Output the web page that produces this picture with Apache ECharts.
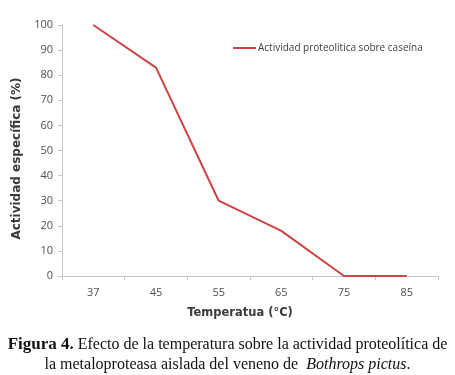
<!DOCTYPE html>
<html>
<head>
<meta charset="utf-8">
<script src="https://cdn.jsdelivr.net/npm/echarts@6/dist/echarts.min.js"></script>
<style>
  html, body { margin: 0; padding: 0; background: #fff; }
  #chart-container { width: 455px; height: 375px; }
</style>
</head>
<body>
<div id="chart-container"></div>
<script>
var dom = document.getElementById('chart-container');
var myChart = echarts.init(dom, null, { renderer: 'canvas' });

// temperatura (°C)
const temperaturas = ['37', '45', '55', '65', '75', '85'];
// actividad específica (%)
const actividad = [100, 83, 30, 18, 0, 0];
const serieNombre = 'Actividad proteolítica sobre caseína';

var option = {
  backgroundColor: '#ffffff',
  animation: false,
  title: {
    text: '{b|Figura 4.} Efecto de la temperatura sobre la actividad proteolítica de\nla metaloproteasa aislada del veneno de  {i|Bothrops pictus}.',
    left: 'center',
    top: 330,
    textStyle: {
      fontFamily: 'Liberation Serif',
      fontSize: 16,
      fontWeight: 'normal',
      color: '#111',
      lineHeight: 20,
      rich: {
        b: { fontFamily: 'Liberation Serif', fontSize: 17, fontWeight: 'bold', color: '#111' },
        i: { fontFamily: 'Liberation Serif', fontSize: 16, fontStyle: 'italic', color: '#111' }
      }
    }
  },
  legend: {
    data: [serieNombre],
    left: 228,
    top: 38,
    icon: 'rect',
    itemWidth: 23,
    itemHeight: 2,
    itemGap: 3,
    textStyle: { fontFamily: 'Open Sans', fontSize: 10, color: '#404040', padding: [0, 0, 0, -3] }
  },
  grid: { left: 62, right: 17, top: 25, bottom: 99 },
  xAxis: {
    type: 'category',
    data: temperaturas,
    boundaryGap: true,
    name: 'Temperatua (°C)',
    nameLocation: 'middle',
    nameGap: 31,
    nameTextStyle: { fontFamily: 'DejaVu Sans', fontWeight: 'bold', fontSize: 11.5, color: '#3a3a3a', padding: [0, 20, 0, 0] },
    axisLine: { lineStyle: { color: '#c8c8c8' } },
    axisTick: { show: true, length: 4, lineStyle: { color: '#c8c8c8' } },
    axisLabel: { fontFamily: 'Open Sans', fontSize: 11, color: '#505050', margin: 11 },
    splitLine: { show: false }
  },
  yAxis: {
    type: 'value',
    min: 0,
    max: 100,
    interval: 10,
    name: 'Actividad específica (%)',
    nameLocation: 'middle',
    nameGap: 38,
    nameTextStyle: { fontFamily: 'DejaVu Sans', fontWeight: 'bold', fontSize: 12, color: '#3a3a3a', padding: [0, 16, 0, 0] },
    axisLine: { show: true, lineStyle: { color: '#c8c8c8' } },
    axisTick: { show: true, length: 4, lineStyle: { color: '#c8c8c8' } },
    axisLabel: { fontFamily: 'Open Sans', fontSize: 11, color: '#505050', margin: 9 },
    splitLine: { show: false }
  },
  series: [
    {
      name: serieNombre,
      type: 'line',
      data: actividad,
      symbol: 'none',
      lineStyle: { color: '#cc4444', width: 2 },
      itemStyle: { color: '#cc4444' }
    }
  ]
};

myChart.setOption(option);
window.addEventListener('resize', myChart.resize);
</script>
</body>
</html>
